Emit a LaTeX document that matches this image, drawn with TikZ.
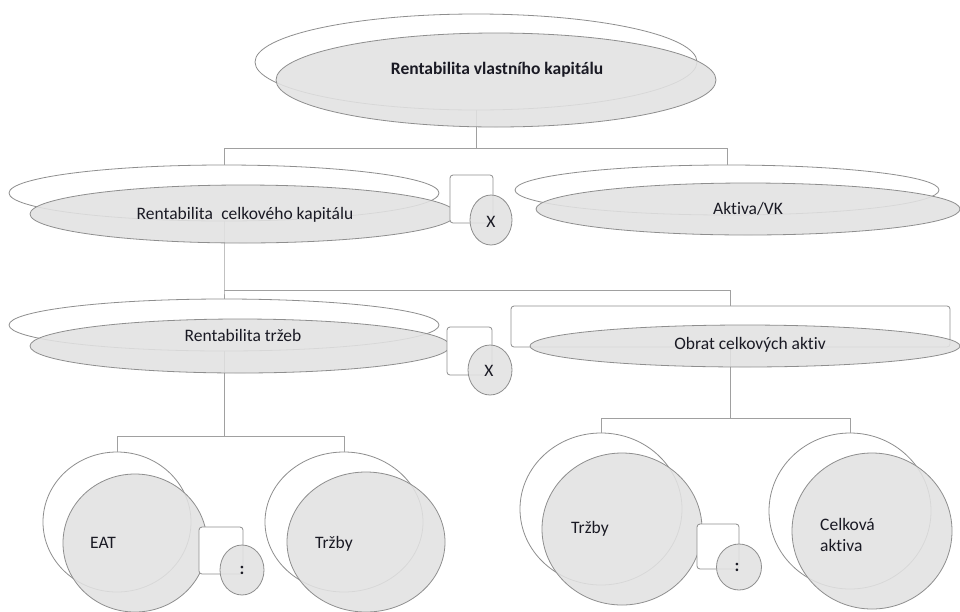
\documentclass[tikz,border=0pt]{standalone}
\usepackage{fontspec}
\setmainfont[Ligatures=NoCommon]{Carlito}
\usetikzlibrary{shapes.geometric}
\definecolor{linegray}{HTML}{A0A0A0}
\definecolor{outgray}{HTML}{8E8E8E}
\definecolor{platefill}{HTML}{E2E2E2}
\definecolor{inkcol}{HTML}{1A1A24}
\begin{document}
\begin{tikzpicture}[x=1pt,y=-1pt,
  edgeline/.style={draw=linegray,line width=0.9pt},
  ghost/.style={ellipse,draw=outgray,fill=white,line width=0.8pt,inner sep=0pt},
  ghostbox/.style={rectangle,rounded corners=3pt,draw=outgray,fill=white,line width=0.8pt,inner sep=0pt},
  plate/.style={ellipse,draw=outgray,fill=platefill,fill opacity=0.88,line width=0.8pt,inner sep=0pt},
  opbox/.style={rectangle,rounded corners=3pt,draw=outgray,fill=white,line width=0.8pt,inner sep=0pt},
  opdisc/.style={ellipse,draw=outgray,fill=platefill,fill opacity=0.88,line width=0.8pt,inner sep=0pt},
  tag/.style={font=\fontsize{17.5}{21}\selectfont,text=inkcol,inner sep=0pt,text opacity=1},
  boldtag/.style={tag,font=\fontsize{17.5}{21}\selectfont\bfseries},
]
\useasboundingbox[fill=white] (0,0) rectangle (960,611);

% outline shapes in the background
\node[ghost,minimum width=442pt,minimum height=96pt] (g0) at (476,62) {};
\node[ghost,minimum width=430pt,minimum height=56pt] (g1) at (224,193) {};
\node[ghost,minimum width=424pt,minimum height=50pt] (g2) at (727,190) {};
\node[ghost,minimum width=430pt,minimum height=52pt] (g3) at (224,325) {};
\node[ghostbox,minimum width=439pt,minimum height=41pt] (g4) at (730.5,326.5) {};
\node[ghost,minimum width=148pt,minimum height=140pt] (g5) at (117,522) {};
\node[ghost,minimum width=158pt,minimum height=140pt] (g6) at (344,522) {};
\node[ghost,minimum width=162pt,minimum height=152pt] (g7) at (601,509) {};
\node[ghost,minimum width=162pt,minimum height=156pt] (g8) at (850,511) {};

% connectors
\coordinate (bus0) at (0,148);
\coordinate (bus1) at (0,290);
\coordinate (bus2) at (0,436);
\coordinate (bus3) at (0,418);
\draw[edgeline] (g0.south) -- (g0.south |- bus0) -| (g1.north);
\draw[edgeline] (g0.south |- bus0) -| (g2.north);
\draw[edgeline] (g1.south) -- (g1.south |- bus1) -| (g3.north);
\draw[edgeline] (g1.south |- bus1) -| (g4.north);
\draw[edgeline] (g3.south) -- (g3.south |- bus2) -| (g5.north);
\draw[edgeline] (g3.south |- bus2) -| (g6.north);
\draw[edgeline] (g4.south) -- (g4.south |- bus3) -| (g7.north);
\draw[edgeline] (g4.south |- bus3) -| (g8.north);

% shaded shapes in front
\node[plate,minimum width=440pt,minimum height=94pt] (p0) at (496,80) {};
\node[plate,minimum width=426pt,minimum height=58pt] (p1) at (243,214) {};
\node[plate,minimum width=424pt,minimum height=52pt] (p2) at (748,209) {};
\node[plate,minimum width=420pt,minimum height=54pt] (p3) at (240,346) {};
\node[plate,minimum width=430pt,minimum height=42pt] (p4) at (745,346) {};
\node[plate,minimum width=144pt,minimum height=138pt] (p5) at (135,543) {};
\node[plate,minimum width=158pt,minimum height=140pt] (p6) at (366,542) {};
\node[plate,minimum width=160pt,minimum height=152pt] (p7) at (622,529) {};
\node[plate,minimum width=160pt,minimum height=156pt] (p8) at (872,531) {};

% operator signs
\node[opbox,minimum width=43pt,minimum height=48pt] (b1) at (471.5,199) {};
\node[opdisc,minimum width=42pt,minimum height=50pt] (o1) at (491,220) {};
\node[opbox,minimum width=45pt,minimum height=48pt] (b2) at (469.5,351) {};
\node[opdisc,minimum width=44pt,minimum height=50pt] (o2) at (490,370) {};
\node[opbox,minimum width=44pt,minimum height=47pt] (b3) at (221,550.5) {};
\node[opdisc,minimum width=44pt,minimum height=50pt] (o3) at (242,570) {};
\node[opbox,minimum width=42pt,minimum height=45pt] (b4) at (718,546.5) {};
\node[opdisc,minimum width=45pt,minimum height=46pt] (o4) at (739,567) {};

% texts
\node[boldtag] (t0) at (497,70) {Rentabilita vlastního kapitálu};
\node[tag] (t1) at (245,215) {Rentabilita\hspace{0.25em} celkového kapitálu};
\node[tag] (t2) at (748,209) {Aktiva/VK};
\node[tag] (t3) at (243,335) {Rentabilita tržeb};
\node[tag] (t4) at (750,345) {Obrat celkových aktiv};
\node[tag] (x1) at (491,222) {X};
\node[tag] (x2) at (489,371) {X};
\node[tag,anchor=west] (t5) at (90,543) {EAT};
\node[tag,anchor=west] (t6) at (315,544) {Tržby};
\node[tag,anchor=west] (t7) at (571,529) {Tržby};
\node[tag,anchor=west,align=left] (t8) at (820,535) {Celková\\aktiva};
\node[boldtag] (d1) at (242,570) {:};
\node[boldtag] (d2) at (737,567) {:};
\end{tikzpicture}
\end{document}
